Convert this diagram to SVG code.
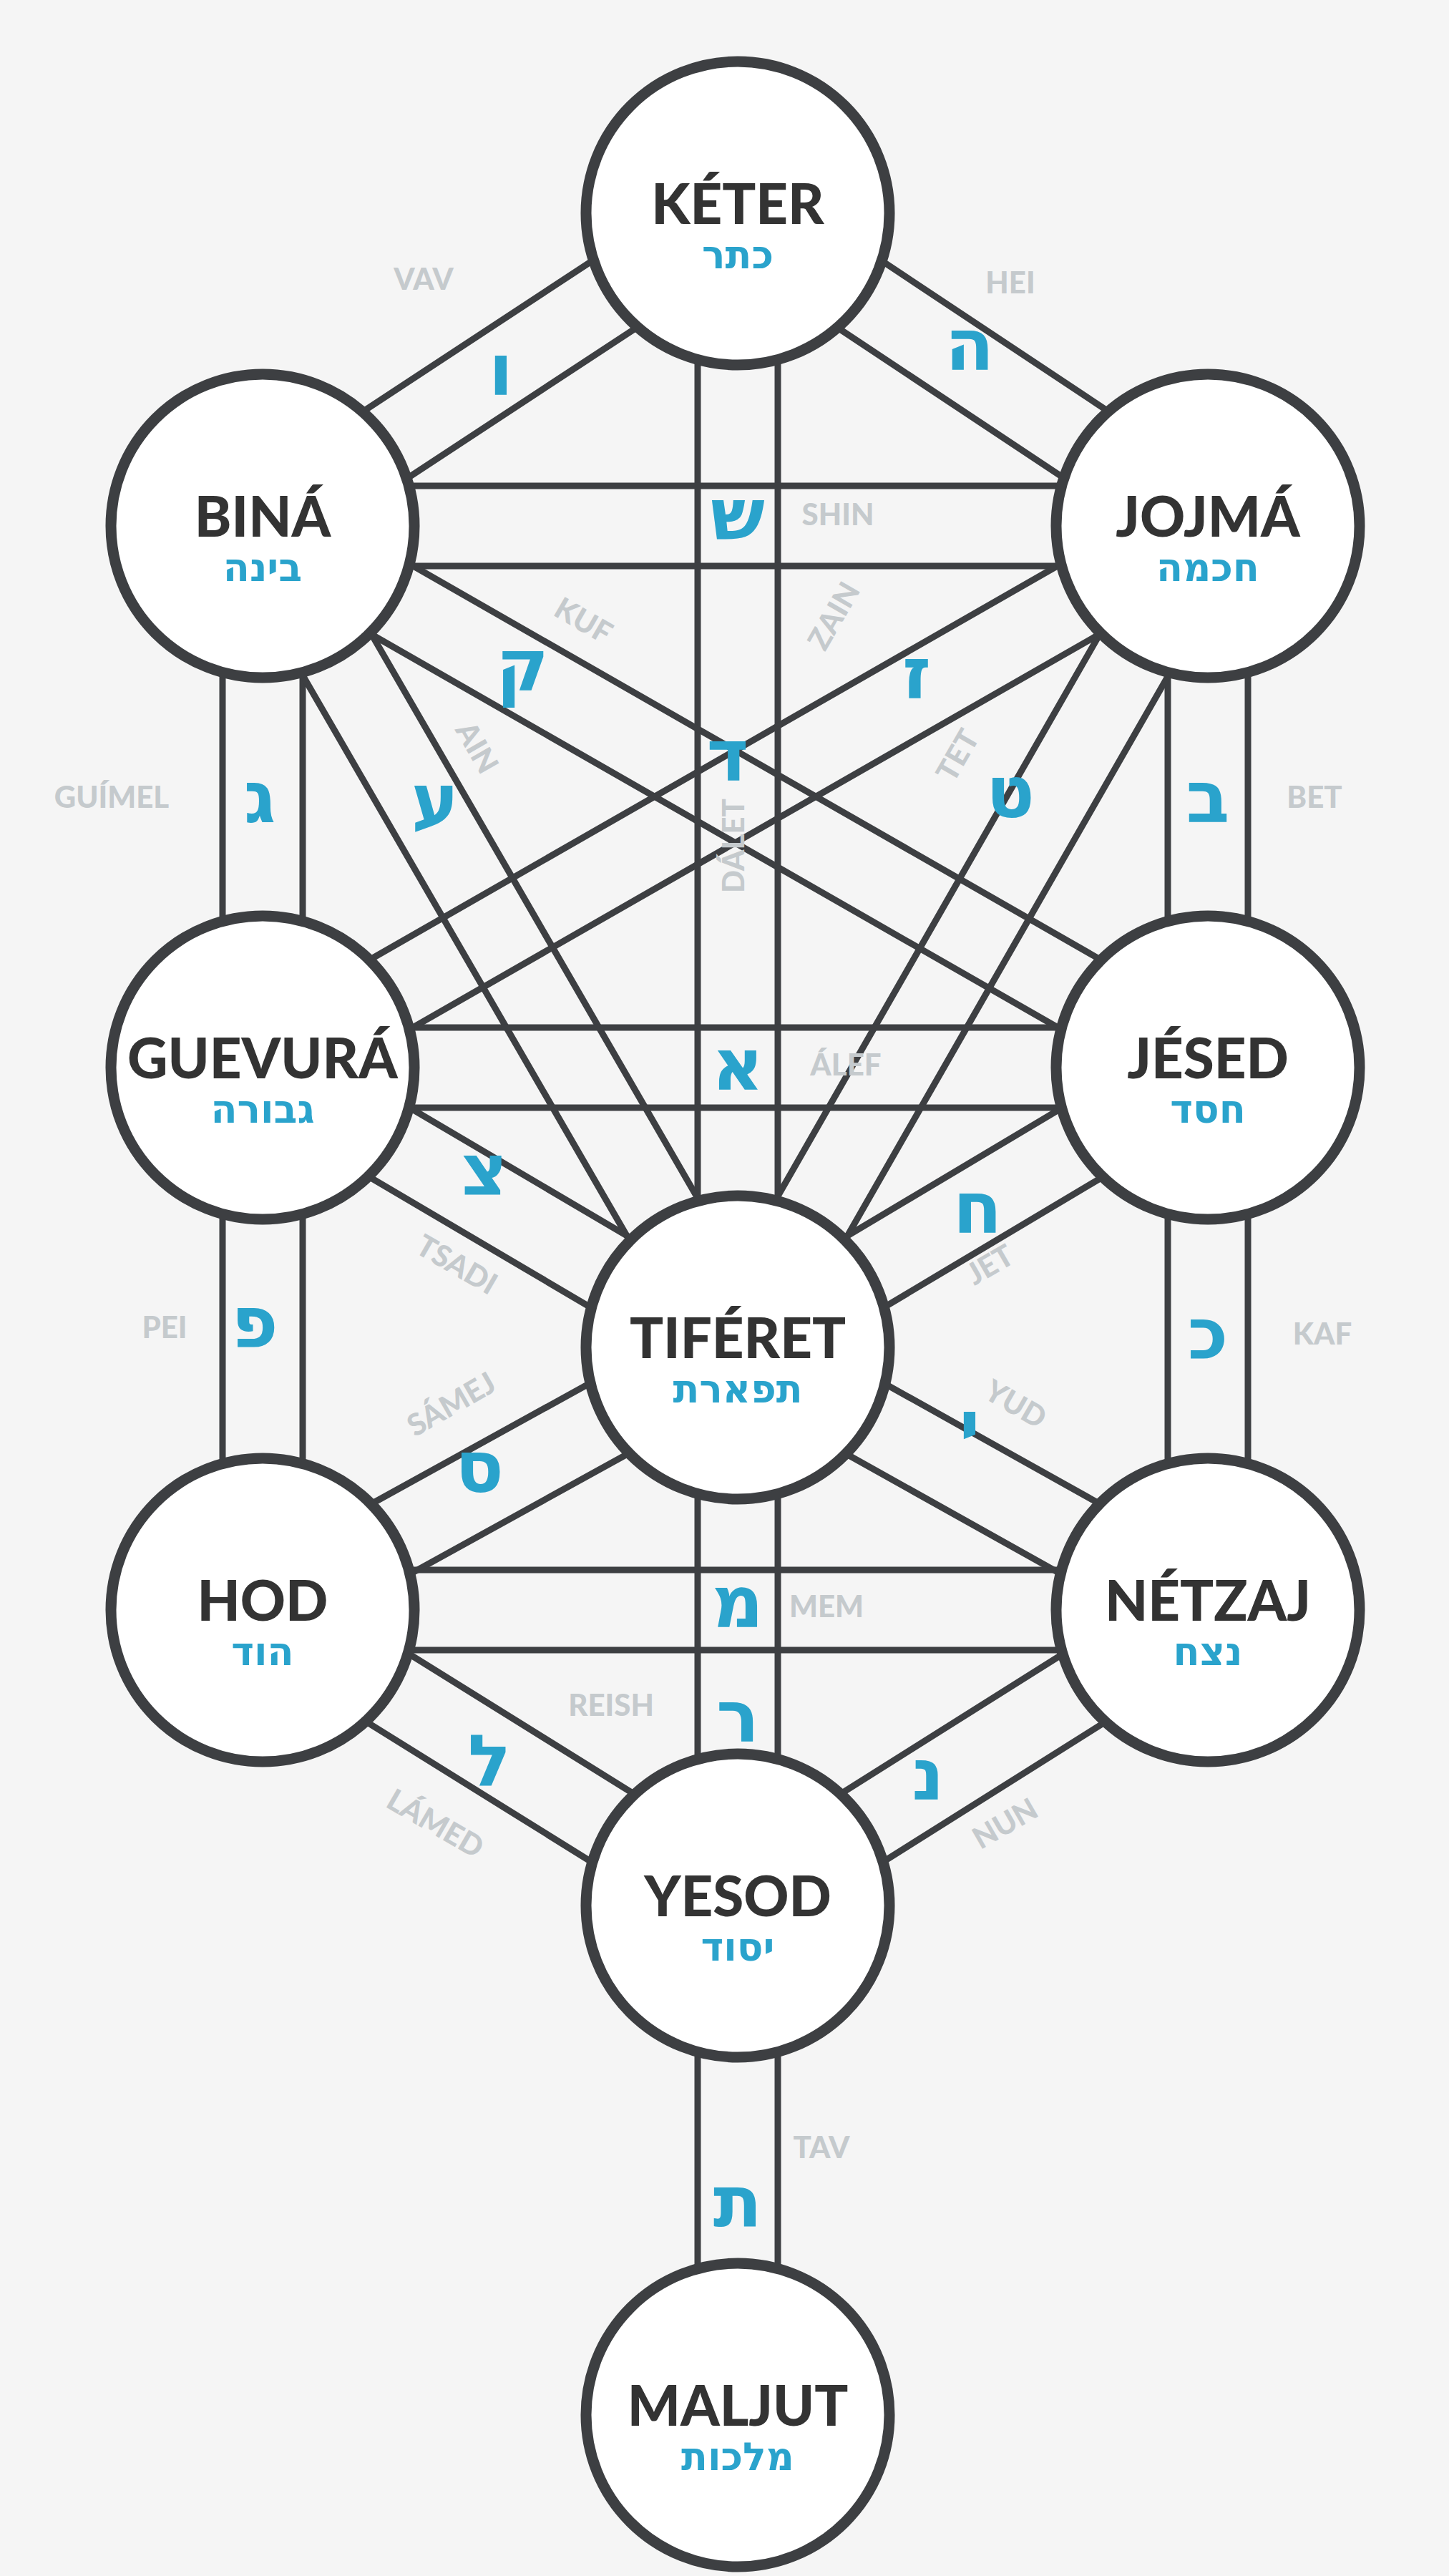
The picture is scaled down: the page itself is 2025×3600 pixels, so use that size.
<svg xmlns="http://www.w3.org/2000/svg" width="2025" height="3600" viewBox="0 0 2025 3600">
<style>
.p{fill:none;stroke:#3d3f42;stroke-width:9}
.n{fill:#fff;stroke:#3d3f42;stroke-width:15}
.nm{font-family:Lato,"DejaVu Sans",sans-serif;font-weight:900;font-size:78px;fill:#333;text-anchor:middle}
.hb{font-family:"DejaVu Sans","Liberation Sans",sans-serif;font-weight:bold;font-size:54px;fill:#2aa3cc;text-anchor:middle}
.lt{font-family:"DejaVu Sans","Liberation Sans",sans-serif;font-weight:bold;font-size:100px;fill:#2aa3cc;text-anchor:middle}
.lb{font-family:Lato,"DejaVu Sans",sans-serif;font-weight:900;font-size:42px;fill:#c5cacd;text-anchor:middle}
</style>
<rect width="2025" height="3600" fill="#f5f5f5"/>
<g id="connectors">
<rect class="p" x="0" y="-56" width="789" height="112" transform="translate(1031,298) rotate(33.6)"/>
<rect class="p" x="0" y="-56" width="795" height="112" transform="translate(1031,298) rotate(146.7)"/>
<rect class="p" x="0" y="-56" width="1585" height="112" transform="translate(1031,298) rotate(90)"/>
<rect class="p" x="0" y="-56" width="1321" height="112" transform="translate(367,735)"/>
<rect class="p" x="0" y="-56" width="757" height="112" transform="translate(367,735) rotate(90)"/>
<rect class="p" x="0" y="-56" width="757" height="112" transform="translate(1688,735) rotate(90)"/>
<rect class="p" x="0" y="-56" width="1326" height="112" transform="translate(367,735) rotate(59.96)"/>
<rect class="p" x="0" y="-56" width="1522" height="112" transform="translate(367,735) rotate(29.8)"/>
<rect class="p" x="0" y="-56" width="1522" height="112" transform="translate(1688,735) rotate(150.2)"/>
<rect class="p" x="0" y="-56" width="1323" height="112" transform="translate(1688,735) rotate(119.8)"/>
<rect class="p" x="0" y="-56" width="1321" height="112" transform="translate(367,1492)"/>
<rect class="p" x="0" y="-56" width="771" height="112" transform="translate(367,1492) rotate(30.5)"/>
<rect class="p" x="0" y="-56" width="765" height="112" transform="translate(1688,1492) rotate(149.2)"/>
<rect class="p" x="0" y="-56" width="758" height="112" transform="translate(367,1492) rotate(90)"/>
<rect class="p" x="0" y="-56" width="758" height="112" transform="translate(1688,1492) rotate(90)"/>
<rect class="p" x="0" y="-56" width="759" height="112" transform="translate(1031,1883) rotate(151.1)"/>
<rect class="p" x="0" y="-56" width="753" height="112" transform="translate(1031,1883) rotate(29.2)"/>
<rect class="p" x="0" y="-56" width="1321" height="112" transform="translate(367,2250)"/>
<rect class="p" x="0" y="-56" width="780" height="112" transform="translate(1031,1883) rotate(90)"/>
<rect class="p" x="0" y="-56" width="782" height="112" transform="translate(367,2250) rotate(31.9)"/>
<rect class="p" x="0" y="-56" width="776" height="112" transform="translate(1688,2250) rotate(147.8)"/>
<rect class="p" x="0" y="-56" width="712" height="112" transform="translate(1031,2663) rotate(90)"/>
</g>
<g id="path-labels">
<text class="lt" x="700" y="552">ו</text><text class="lb" x="592" y="405">VAV</text>
<text class="lt" x="1355" y="517">ה</text><text class="lb" x="1412" y="410">HEI</text>
<text class="lt" x="1031" y="754">ש</text><text class="lb" x="1171" y="734">SHIN</text>
<text class="lt" x="730" y="965">ק</text><text class="lb" transform="translate(815,868) rotate(30)" y="14">KUF</text>
<text class="lt" x="1017" y="1091">ד</text><text class="lb" transform="translate(1026,1182) rotate(-90)" y="14">DÁLET</text>
<text class="lt" x="1281" y="976">ז</text><text class="lb" transform="translate(1166,861) rotate(-60)" y="14">ZAIN</text>
<text class="lt" x="363" y="1149">ג</text><text class="lb" x="156" y="1129">GUÍMEL</text>
<text class="lt" x="1688" y="1149">ב</text><text class="lb" x="1837" y="1129">BET</text>
<text class="lt" x="608" y="1153">ע</text><text class="lb" transform="translate(666,1045) rotate(60)" y="14">AIN</text>
<text class="lt" x="1412" y="1142">ט</text><text class="lb" transform="translate(1339,1056) rotate(-60)" y="14">TET</text>
<text class="lt" x="1031" y="1523">א</text><text class="lb" x="1182" y="1503">ÁLEF</text>
<text class="lt" x="677" y="1670">צ</text><text class="lb" transform="translate(638,1768) rotate(30)" y="14">TSADI</text>
<text class="lt" x="1366" y="1723">ח</text><text class="lb" transform="translate(1384,1768) rotate(-30)" y="14">JET</text>
<text class="lt" x="356" y="1883">פ</text><text class="lb" x="230" y="1870">PEI</text>
<text class="lt" x="1688" y="1899">כ</text><text class="lb" x="1848" y="1879">KAF</text>
<text class="lt" x="670" y="2085">ס</text><text class="lb" transform="translate(631,1963) rotate(-30)" y="14">SÁMEJ</text>
<text class="lt" x="1355" y="2028">י</text><text class="lb" transform="translate(1419,1963) rotate(30)" y="14">YUD</text>
<text class="lt" x="1031" y="2274">מ</text><text class="lb" x="1155" y="2260">MEM</text>
<text class="lt" x="1031" y="2434">ר</text><text class="lb" x="854" y="2398">REISH</text>
<text class="lt" x="684" y="2496">ל</text><text class="lb" transform="translate(608,2549) rotate(30)" y="14">LÁMED</text>
<text class="lt" x="1297" y="2515">נ</text><text class="lb" transform="translate(1405,2549) rotate(-30)" y="14">NUN</text>
<text class="lt" x="1031" y="3112">ת</text><text class="lb" x="1148" y="3016">TAV</text>
</g>
<g id="keter"><circle class="n" cx="1031" cy="298" r="212"/><text class="nm" x="1031" y="313">KÉTER</text><text class="hb" x="1031" y="375">כתר</text></g>
<g id="bina"><circle class="n" cx="367" cy="735" r="212"/><text class="nm" x="367" y="750">BINÁ</text><text class="hb" x="367" y="812">בינה</text></g>
<g id="jojma"><circle class="n" cx="1688" cy="735" r="212"/><text class="nm" x="1688" y="750">JOJMÁ</text><text class="hb" x="1688" y="812">חכמה</text></g>
<g id="guevura"><circle class="n" cx="367" cy="1492" r="212"/><text class="nm" x="367" y="1507">GUEVURÁ</text><text class="hb" x="367" y="1569">גבורה</text></g>
<g id="jesed"><circle class="n" cx="1688" cy="1492" r="212"/><text class="nm" x="1688" y="1507">JÉSED</text><text class="hb" x="1688" y="1569">חסד</text></g>
<g id="tiferet"><circle class="n" cx="1031" cy="1883" r="212"/><text class="nm" x="1031" y="1898">TIFÉRET</text><text class="hb" x="1031" y="1960">תפארת</text></g>
<g id="hod"><circle class="n" cx="367" cy="2250" r="212"/><text class="nm" x="367" y="2265">HOD</text><text class="hb" x="367" y="2327">הוד</text></g>
<g id="netzaj"><circle class="n" cx="1688" cy="2250" r="212"/><text class="nm" x="1688" y="2265">NÉTZAJ</text><text class="hb" x="1688" y="2327">נצח</text></g>
<g id="yesod"><circle class="n" cx="1031" cy="2663" r="212"/><text class="nm" x="1031" y="2678">YESOD</text><text class="hb" x="1031" y="2740">יסוד</text></g>
<g id="maljut"><circle class="n" cx="1031" cy="3375" r="212"/><text class="nm" x="1031" y="3390">MALJUT</text><text class="hb" x="1031" y="3452">מלכות</text></g>
</svg>
